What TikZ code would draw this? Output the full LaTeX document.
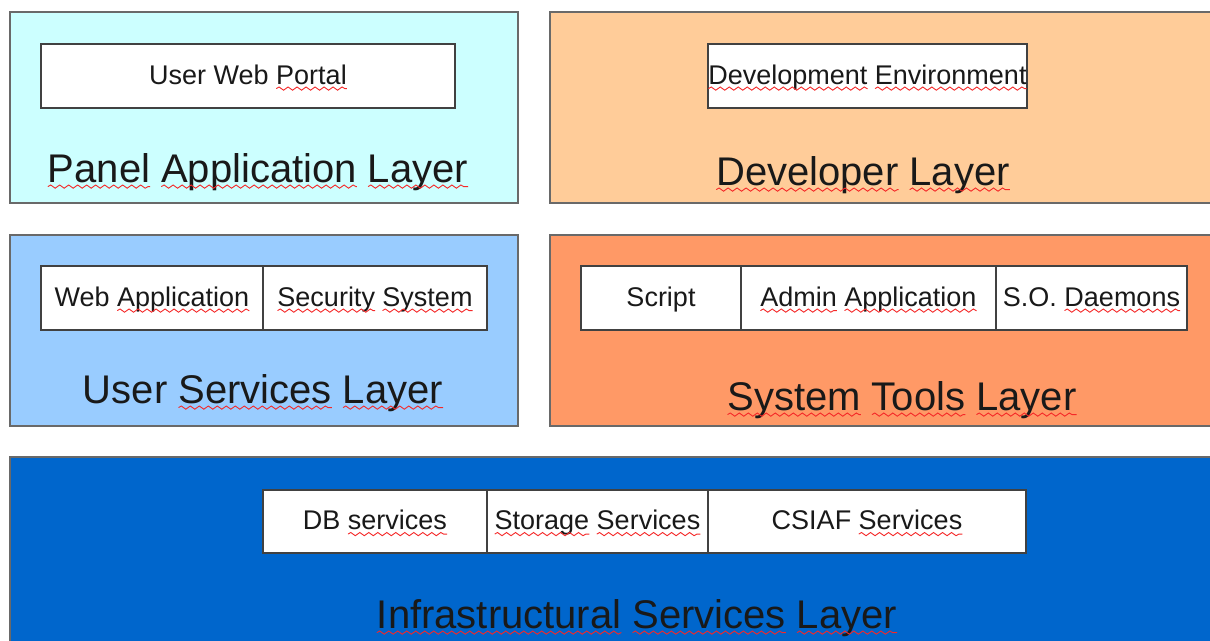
\documentclass[tikz,border=0pt]{standalone}
\usepackage{fontspec}
\setmainfont{Liberation Sans}
\usetikzlibrary{decorations.pathmorphing}
\definecolor{squig}{RGB}{245,40,40}
\definecolor{txt}{RGB}{25,25,25}
\definecolor{panelc}{RGB}{204,255,255}
\definecolor{devc}{RGB}{255,204,153}
\definecolor{userc}{RGB}{153,204,255}
\definecolor{toolc}{RGB}{255,153,102}
\definecolor{infrac}{RGB}{0,102,204}
\definecolor{outerline}{RGB}{105,105,105}
\definecolor{innerline}{RGB}{65,65,65}
\newcommand\smallf{\fontsize{27}{30}\selectfont}
\newcommand\bigf{\fontsize{40}{44}\selectfont}
\newsavebox\sqwbox
\newlength\sqwa
\newlength\sqwb
\newlength\sqwc
% #1 node, #2 font, #3 full text, #4 text before the word, #5 word
\newcommand\squig[5]{%
  \pgfinterruptpicture
  \sbox\sqwbox{\normalfont#2#3}\global\sqwa=\wd\sqwbox
  \sbox\sqwbox{\normalfont#2#4}\global\sqwb=\wd\sqwbox
  \sbox\sqwbox{\normalfont#2#5}\global\sqwc=\wd\sqwbox
  \endpgfinterruptpicture
  \draw[squiggle] ([xshift=-0.5\sqwa+\sqwb,yshift=-4.6pt]#1.base) -- ++(\sqwc,0);}
\begin{document}
\begin{tikzpicture}[x=1pt,y=-1pt,
  layerbox/.style={draw=outerline,line width=1.5pt},
  compbox/.style={draw=innerline,line width=1.7pt,fill=white,inner sep=0pt,
    text=txt,font=\smallf,text height=19pt,text depth=3pt,
    minimum height=64pt},
  layerlabel/.style={anchor=base,inner sep=0pt,text=txt,font=\bigf},
  squiggle/.style={draw=squig,line width=0.9pt,decorate,
    decoration={snake,segment length=9pt,amplitude=1.6pt}}]
\useasboundingbox (0,0) rectangle (1210,640);
\clip (0,0) rectangle (1210,640);
% layers
\draw[layerbox,fill=panelc] (10,12) rectangle (518,203);
\draw[layerbox,fill=devc] (550,12) rectangle (1216,203);
\draw[layerbox,fill=userc] (10,235) rectangle (518,426);
\draw[layerbox,fill=toolc] (550,235) rectangle (1216,426);
\draw[layerbox,fill=infrac] (10,457) rectangle (1216,646);
% components
\node[compbox,minimum width=414pt] (uwp) at (248,76) {User Web Portal};
\node[compbox,minimum width=319pt] (dev) at (867.5,76) {Development Environment};
\node[compbox,minimum width=222pt] (webapp) at (152,298) {Web Application};
\node[compbox,minimum width=224pt] (sec) at (375,298) {Security System};
\node[compbox,minimum width=160pt] (script) at (661,298) {Script};
\node[compbox,minimum width=255pt] (admin) at (868.5,298) {Admin Application};
\node[compbox,minimum width=191pt] (sod) at (1091.5,298) {S.O. Daemons};
\node[compbox,minimum width=224pt,minimum height=63pt] (db) at (375,521.5) {DB services};
\node[compbox,minimum width=221pt,minimum height=63pt] (stor) at (597.5,521.5) {Storage Services};
\node[compbox,minimum width=318pt,minimum height=63pt] (csiaf) at (867,521.5) {CSIAF Services};
% layer labels
\node[layerlabel] (lpanel) at (258,182) {Panel Application Layer};
\node[layerlabel] (ldev) at (863,185) {Developer Layer};
\node[layerlabel] (luser) at (263,403) {User Services Layer};
\node[layerlabel] (ltool) at (902,410) {System Tools Layer};
\node[layerlabel] (linfra) at (637,628) {Infrastructural Services Layer};
% spell-check squiggles
\squig{uwp}{\smallf}{User Web Portal}{User Web }{Portal}
\squig{dev}{\smallf}{Development Environment}{}{Development}
\squig{dev}{\smallf}{Development Environment}{Development }{Environment}
\squig{webapp}{\smallf}{Web Application}{Web }{Application}
\squig{sec}{\smallf}{Security System}{}{Security}
\squig{sec}{\smallf}{Security System}{Security }{System}
\squig{admin}{\smallf}{Admin Application}{}{Admin}
\squig{admin}{\smallf}{Admin Application}{Admin }{Application}
\squig{sod}{\smallf}{S.O. Daemons}{S.O. }{Daemons}
\squig{db}{\smallf}{DB services}{DB }{services}
\squig{stor}{\smallf}{Storage Services}{}{Storage}
\squig{stor}{\smallf}{Storage Services}{Storage }{Services}
\squig{csiaf}{\smallf}{CSIAF Services}{CSIAF }{Services}
\squig{lpanel}{\bigf}{Panel Application Layer}{}{Panel}
\squig{lpanel}{\bigf}{Panel Application Layer}{Panel }{Application}
\squig{lpanel}{\bigf}{Panel Application Layer}{Panel Application }{Layer}
\squig{ldev}{\bigf}{Developer Layer}{}{Developer}
\squig{ldev}{\bigf}{Developer Layer}{Developer }{Layer}
\squig{luser}{\bigf}{User Services Layer}{User }{Services}
\squig{luser}{\bigf}{User Services Layer}{User Services }{Layer}
\squig{ltool}{\bigf}{System Tools Layer}{}{System}
\squig{ltool}{\bigf}{System Tools Layer}{System }{Tools}
\squig{ltool}{\bigf}{System Tools Layer}{System Tools }{Layer}
\squig{linfra}{\bigf}{Infrastructural Services Layer}{}{Infrastructural}
\squig{linfra}{\bigf}{Infrastructural Services Layer}{Infrastructural }{Services}
\squig{linfra}{\bigf}{Infrastructural Services Layer}{Infrastructural Services }{Layer}
\end{tikzpicture}
\end{document}
